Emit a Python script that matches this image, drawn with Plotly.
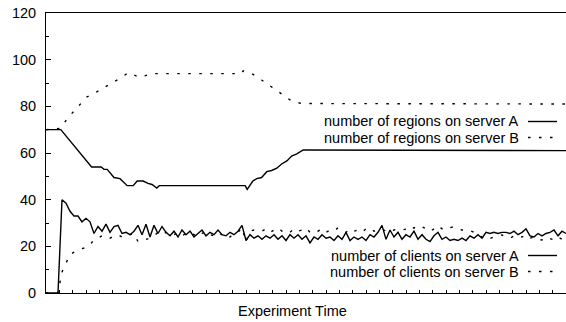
import plotly.graph_objects as go

# ---- data (time in sample units) ----
regions_a_t = [0, 3.7, 11.4, 13.8, 14.5, 15.3, 17, 18.5, 20.3, 21.8, 22.8, 24.3, 25.5, 26.5,
               27.7, 28.3, 49.8, 50.3, 51.7, 52.7, 53.9, 55.2, 56.4, 57.7, 58.9, 60.3, 61.4,
               62.7, 64.3, 130]
regions_a = [70, 70, 54, 54, 53, 53, 49.5, 49, 46, 46, 48, 48, 47, 46.5,
             45, 46, 46, 44.4, 48, 49, 49.5, 52, 52.5, 53.5, 55.3, 56.7, 58.7,
             59.6, 61.3, 61]

regions_b_t = [0, 3.5, 5.6, 7.8, 10.2, 12.8, 15.3, 18.1, 20.6, 23.5, 26.4, 48.9, 49.3,
               51.4, 53.9, 56.4, 58.9, 61.4, 63.9, 130]
regions_b = [70, 70.5, 75.3, 79.6, 84, 86.3, 88.7, 91.6, 94.4, 92.4, 94, 94, 95.2,
             94.1, 91.3, 88.1, 85.3, 82.3, 81.2, 81]

clients_t = list(range(0, 131))
clients_a = [0, 0, 0, 0, 40, 38.5, 35, 33, 33, 30.5,
             32, 30.5, 25.5, 28.5, 26.5, 29.5, 26, 28.5, 29, 25.5,
             26, 25, 26.5, 29, 25, 29.5, 24, 29, 25.5, 28.5,
             26, 24.5, 26.5, 24, 27, 25, 26.5, 24, 25.5, 27,
             24.5, 26, 25, 27, 25, 24.5, 26, 25, 26.5, 29,
             22.5, 25, 23.5, 24.5, 23, 24.5, 23.5, 25, 23, 24.5,
             22.5, 25, 23.5, 25, 23, 24.5, 21.5, 24, 23, 25,
             23.5, 24, 22.5, 24.5, 23, 26, 22.5, 24, 23, 24,
             22.5, 25, 24, 26, 29, 23, 27, 24, 26, 23,
             25, 24, 26.5, 23, 25, 23, 22, 24.5, 26, 23,
             24, 22.5, 23, 22.5, 23.5, 22.5, 24.5, 23.5, 25, 23.5,
             26, 25.5, 26, 25.5, 26, 26, 25.5, 26.5, 25, 26,
             27.5, 24.5, 24, 25.5, 24.5, 25.5, 26, 27, 24.5, 26.5,
             25.5]
clients_b = [0, 0, 0, 0, 9, 12.5, 16.5, 17.5, 18.5, 19,
             19.5, 20.5, 23, 23.5, 24.5, 24.5, 23.5, 24.5, 25, 24,
             25, 25, 25.5, 22, 22.5, 23, 23.5, 24.5, 26, 25,
             26, 24.5, 25, 26, 24.5, 25.5, 26, 25, 24, 25.5,
             26.5, 25, 24.5, 26, 25, 25.5, 24, 25.5, 26, 28,
             22, 26.5, 27, 27, 26.5, 27.5, 26, 27, 28, 26.5,
             27, 26, 27.5, 26.5, 27, 28, 26, 27, 26.5, 27.5,
             26, 27, 26.5, 28, 27, 26, 27.5, 26.5, 27, 26,
             27.5, 28, 26.5, 27, 27.5, 26.5, 26, 27, 27.5, 27,
             27.4, 26.5, 28, 27.4, 28.4, 27.5, 26.3, 27.5, 28.9, 27.5,
             27, 28, 28.4, 27.5, 27, 26.5, 26.7, 26, 24.9, 24,
             22.7, 23.5, 24, 24.5, 24.9, 24, 23.5, 24.5, 24.9, 24,
             24.9, 23.5, 24, 23, 22.7, 24, 23.5, 22.7, 24, 23,
             24.5]

y_ticks = [0, 20, 40, 60, 80, 100, 120]

legend_top = ["number of regions on server A", "number of regions on server B"]
legend_bot = ["number of clients on server A", "number of clients on server B"]
x_title = "Experiment Time"

FONT = "Liberation Sans, Arial, Helvetica, sans-serif"
FS = 14.5
FS_LEG = 14.5
DOT = "2.5px,8.5px"
LW = 1.4

fig = go.Figure()
fig.add_trace(go.Scatter(x=regions_a_t, y=regions_a, mode="lines",
                         line=dict(color="black", width=LW), showlegend=False))
fig.add_trace(go.Scatter(x=regions_b_t, y=regions_b, mode="lines",
                         line=dict(color="black", width=LW, dash=DOT), showlegend=False))
fig.add_trace(go.Scatter(x=clients_t, y=clients_a, mode="lines",
                         line=dict(color="black", width=LW), showlegend=False))
fig.add_trace(go.Scatter(x=clients_t, y=clients_b, mode="lines",
                         line=dict(color="black", width=LW, dash=DOT), showlegend=False))

fig.update_layout(
    width=566, height=322,
    margin=dict(l=46, r=0, t=13, b=29),
    paper_bgcolor="white", plot_bgcolor="white",
    font=dict(family=FONT, size=FS, color="black"),
    showlegend=False,
)
fig.update_xaxes(range=[0, 130], showgrid=False, zeroline=False,
                 showline=True, linecolor="black", linewidth=1, mirror=True,
                 ticks="inside", ticklen=3, tickcolor="black", tick0=0, dtick=10/3,
                 showticklabels=False)
fig.update_yaxes(range=[0, 120], showgrid=False, zeroline=False,
                 showline=True, linecolor="black", linewidth=1,
                 ticks="inside", ticklen=5, tickcolor="black",
                 tickvals=y_ticks, ticktext=[str(v) for v in y_ticks],
                 ticklabelstandoff=6,
                 tickfont=dict(size=FS, family=FONT, color="black"),
                 minor=dict(dtick=10, tick0=0, ticks="inside", ticklen=3, tickcolor="black"))

# legend texts (gnuplot style: text right-aligned, sample to the right)
def px_x(p):
    return (p - 46) / 520

def px_y(p):
    return (293 - p) / 280

rows = [(legend_top[0], 121.5, None), (legend_top[1], 137.5, DOT),
        (legend_bot[0], 255.5, None), (legend_bot[1], 271.5, DOT)]
for text, yp, dash in rows:
    fig.add_annotation(x=px_x(520), y=px_y(yp), xref="paper", yref="paper",
                       text=text, showarrow=False, xanchor="right", yanchor="middle",
                       borderpad=0,
                       font=dict(size=FS_LEG, family=FONT, color="black"))
    fig.add_shape(type="line", xref="paper", yref="paper",
                  x0=px_x(528), x1=px_x(557), y0=px_y(yp), y1=px_y(yp),
                  line=dict(color="black", width=LW, dash=dash if dash else "solid"))

fig.add_annotation(x=px_x(292), y=px_y(311), xref="paper", yref="paper",
                   text=x_title, showarrow=False, xanchor="center", yanchor="middle",
                   borderpad=0,
                   font=dict(size=FS_LEG, family=FONT, color="black"))

fig.write_html("out.html", config={"displayModeBar": False},
               post_script="document.body.style.margin='0';document.body.style.overflow='hidden';")
